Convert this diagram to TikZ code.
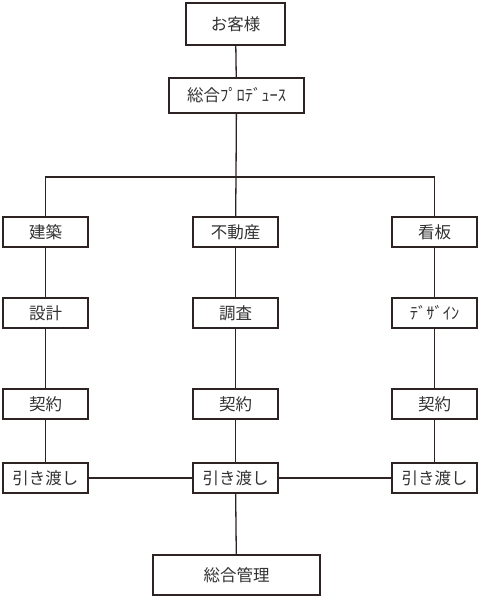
\documentclass[tikz,border=0pt]{standalone}
\usepackage{fontspec}
\newfontfamily\jp{Noto Sans CJK JP}
\definecolor{linec}{RGB}{45,35,35}
\definecolor{textc}{RGB}{50,50,50}
\begin{document}
\begin{tikzpicture}[x=1pt,y=-1pt,
  box/.style={draw=linec, line width=1.3pt, fill=white, minimum width=85pt, minimum height=30pt, inner sep=0pt, text=textc, font=\jp\fontsize{16.5}{18}\selectfont},
  conn/.style={draw=linec, line width=1.3pt}]
\useasboundingbox (0,0) rectangle (480,600);
\node[box, minimum width=99pt, minimum height=42pt] (kyaku) at (235.5,24) {お客様};
\node[box, minimum width=135pt, minimum height=35pt] (prod) at (236.5,95.5) {総合ﾌﾟﾛﾃﾞｭｰｽ};
\coordinate (bus) at (236,177);
% row 1
\node[box] (kenchiku) at (45.5,232) {建築};
\node[box] (fudosan) at (235.5,232) {不動産};
\node[box] (kanban) at (434.5,232) {看板};
% row 2
\node[box] (sekkei) at (45.5,313) {設計};
\node[box] (chosa) at (235.5,313) {調査};
\node[box] (design) at (434.5,313) {ﾃﾞｻﾞｲﾝ};
% row 3
\node[box] (keiyakuL) at (45.5,404) {契約};
\node[box] (keiyakuM) at (235.5,404) {契約};
\node[box] (keiyakuR) at (434.5,404) {契約};
% row 4
\node[box] (hikiL) at (45.5,478) {引き渡し};
\node[box] (hikiM) at (235.5,478) {引き渡し};
\node[box] (hikiR) at (434.5,478) {引き渡し};
% bottom
\node[box, minimum width=167pt, minimum height=40pt] (kanri) at (236.5,575) {総合管理};
% connectors
\draw[conn] (kyaku) -- (prod);
\draw[conn] (prod) -- (bus);
\draw[conn] (kenchiku) |- (bus) -| (kanban);
\draw[conn] (bus) -- (fudosan);
\draw[conn] (kenchiku) -- (sekkei);
\draw[conn] (sekkei) -- (keiyakuL);
\draw[conn] (keiyakuL) -- (hikiL);
\draw[conn] (fudosan) -- (chosa);
\draw[conn] (chosa) -- (keiyakuM);
\draw[conn] (keiyakuM) -- (hikiM);
\draw[conn] (kanban) -- (design);
\draw[conn] (design) -- (keiyakuR);
\draw[conn] (keiyakuR) -- (hikiR);
\draw[conn] (hikiL) -- (hikiM);
\draw[conn] (hikiM) -- (hikiR);
\draw[conn] (hikiM) -- (kanri);
\end{tikzpicture}
\end{document}
